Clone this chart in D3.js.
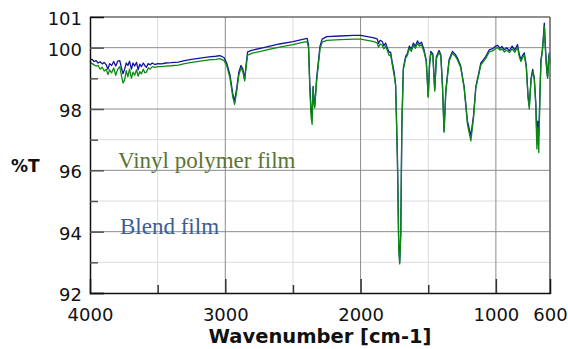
<!DOCTYPE html>
<html>
<head>
<meta charset="utf-8">
<script src="https://cdn.jsdelivr.net/npm/d3@7"></script>
<style>
  body { margin: 0; background: #fff; }
  svg { display: block; }
</style>
</head>
<body>
<svg id="chart" width="568" height="349"></svg>
<script>
// wavenumber (cm-1) sampling shared by both spectra
const wavenumbers = [
  4000, 3985, 3970, 3955, 3940, 3925, 3910, 3895, 3880, 3867, 3855, 3840, 3825, 3810, 3795, 3780,
  3768, 3756, 3744, 3732, 3720, 3708, 3694, 3682, 3670, 3656, 3644, 3632, 3620, 3606, 3595, 3583,
  3570, 3555, 3540, 3521, 3500, 3470, 3440, 3400, 3348, 3300, 3250, 3185, 3120, 3070, 3040, 3010,
  2990, 2965, 2945, 2931, 2915, 2900, 2884, 2870, 2857, 2845, 2835, 2800, 2700, 2600, 2500, 2420,
  2395, 2385, 2375, 2365, 2358, 2351, 2345, 2339, 2325, 2300, 2284, 2250, 2150, 2050, 2000, 1950,
  1900, 1876, 1868, 1855, 1840, 1828, 1815, 1803, 1790, 1778, 1766, 1752, 1741, 1728, 1718, 1711,
  1703, 1695, 1684, 1667, 1655, 1640, 1625, 1610, 1595, 1580, 1565, 1550, 1531, 1515, 1500, 1490,
  1481, 1466, 1452, 1440, 1420, 1407, 1395, 1383, 1370, 1346, 1321, 1300, 1284, 1260, 1235, 1210,
  1185, 1165, 1148, 1130, 1111, 1090, 1074, 1049, 1020, 1000, 988, 970, 955, 938, 920, 900,
  880, 860, 840, 828, 815, 802, 790, 775, 762, 753, 740, 728, 716, 705, 697, 690,
  683, 675, 667, 660, 654, 642, 636, 630, 622, 617, 611, 605, 600
];

// %T, blend film (blue)
const blendT = [
  99.60, 99.62, 99.55, 99.58, 99.50, 99.54, 99.47, 99.52, 99.44, 99.30, 99.48, 99.42, 99.55, 99.40, 99.56, 99.58,
  99.35, 99.15, 99.30, 99.50, 99.42, 99.56, 99.30, 99.50, 99.40, 99.52, 99.28, 99.46, 99.38, 99.50, 99.42, 99.36,
  99.48, 99.44, 99.50, 99.45, 99.48, 99.47, 99.50, 99.51, 99.53, 99.58, 99.62, 99.66, 99.70, 99.72, 99.74, 99.68,
  99.50, 99.10, 98.50, 98.26, 98.70, 99.20, 99.42, 99.30, 98.98, 99.50, 99.86, 99.92, 100.02, 100.12, 100.20, 100.28,
  100.30, 100.10, 98.80, 97.90, 97.72, 98.74, 98.30, 98.10, 99.00, 100.05, 100.28, 100.36, 100.38, 100.40, 100.40, 100.36,
  100.32, 100.28, 100.14, 100.24, 100.20, 100.06, 100.15, 100.00, 99.85, 99.85, 99.52, 99.20, 98.80, 96.50, 93.60, 93.00,
  94.00, 97.50, 99.33, 99.72, 99.80, 100.05, 99.95, 100.15, 100.05, 100.22, 100.12, 100.18, 99.93, 99.60, 98.42, 99.50,
  99.88, 99.80, 98.64, 99.70, 99.91, 99.77, 98.80, 97.28, 98.60, 99.61, 99.88, 99.78, 99.66, 99.40, 98.74, 97.60,
  97.12, 97.80, 98.74, 99.10, 99.50, 99.62, 99.72, 99.93, 99.98, 100.05, 100.08, 99.98, 100.04, 99.93, 100.00, 99.90,
  100.05, 99.92, 100.10, 99.80, 99.61, 99.75, 99.83, 99.40, 98.40, 98.10, 99.00, 99.29, 99.01, 98.20, 97.10, 97.60,
  97.15, 98.40, 99.61, 99.80, 100.04, 100.80, 100.20, 99.70, 99.20, 99.07, 99.60, 99.83, 99.50
];

// %T, vinyl polymer film (green)
const vinylT = [
  99.52, 99.48, 99.44, 99.40, 99.42, 99.30, 99.36, 99.24, 99.30, 99.12, 99.28, 99.18, 99.34, 99.10, 99.30, 99.38,
  99.10, 98.85, 98.95, 99.25, 99.05, 99.30, 99.01, 99.20, 99.10, 99.28, 99.07, 99.22, 99.15, 99.30, 99.18, 99.20,
  99.34, 99.30, 99.38, 99.36, 99.38, 99.38, 99.40, 99.41, 99.43, 99.48, 99.52, 99.56, 99.60, 99.62, 99.64, 99.58,
  99.42, 99.00, 98.40, 98.15, 98.60, 99.10, 99.34, 99.22, 98.92, 99.40, 99.76, 99.82, 99.92, 100.02, 100.10, 100.18,
  100.20, 100.00, 98.60, 97.70, 97.50, 98.70, 98.20, 98.04, 98.90, 99.95, 100.18, 100.24, 100.26, 100.28, 100.28, 100.24,
  100.20, 100.14, 100.02, 100.12, 100.08, 99.96, 100.04, 99.92, 99.75, 99.77, 99.45, 99.10, 98.75, 96.40, 93.40, 92.95,
  93.90, 97.40, 99.28, 99.66, 99.74, 99.98, 99.88, 100.08, 99.98, 100.14, 100.05, 100.10, 99.86, 99.55, 98.38, 99.45,
  99.82, 99.74, 98.58, 99.64, 99.85, 99.72, 98.75, 97.24, 98.55, 99.56, 99.82, 99.72, 99.60, 99.35, 98.70, 97.50,
  96.96, 97.72, 98.70, 99.05, 99.44, 99.56, 99.66, 99.86, 99.90, 99.98, 100.00, 99.92, 99.96, 99.86, 99.92, 99.84,
  99.96, 99.85, 100.02, 99.72, 99.55, 99.68, 99.76, 99.35, 98.35, 98.00, 98.95, 99.22, 98.95, 98.10, 96.70, 97.40,
  96.58, 98.30, 99.55, 99.75, 99.98, 100.70, 100.10, 99.60, 99.10, 99.00, 99.55, 99.78, 99.45
];

const xLabelTicks = [4000, 3000, 2000, 1000, 600];
const xMajorTicks = [3000, 2000, 1000];
const xMinorTicks = [3500, 2500, 1500];
const yMajorTicks = [92, 94, 96, 98, 100, 101];
const yMinorTicks = [93, 95, 97, 99];

const plotL = 90, plotR = 550, plotT = 17, plotB = 293;
const svg = d3.select('#chart');

const x = d3.scaleLinear().domain([4000, 600]).range([plotL, plotR]);
const y = d3.scaleLinear().domain([92, 101]).range([plotB, plotT]);

const tickFont = 'DejaVu Sans, Verdana, sans-serif';

// grid
const grid = svg.append('g');
grid.selectAll('.gy-minor').data(yMinorTicks).enter().append('line')
    .attr('x1', plotL).attr('x2', plotR)
    .attr('y1', d => y(d)).attr('y2', d => y(d))
    .attr('stroke', '#dcdcdc').attr('stroke-width', 1);
grid.selectAll('.gx-minor').data(xMinorTicks).enter().append('line')
    .attr('y1', plotT).attr('y2', plotB)
    .attr('x1', d => x(d)).attr('x2', d => x(d))
    .attr('stroke', '#dcdcdc').attr('stroke-width', 1);
grid.selectAll('.gy-major').data([94, 96, 98, 100]).enter().append('line')
    .attr('x1', plotL).attr('x2', plotR)
    .attr('y1', d => y(d)).attr('y2', d => y(d))
    .attr('stroke', '#8c8c8c').attr('stroke-width', 1);
grid.selectAll('.gx-major').data(xMajorTicks).enter().append('line')
    .attr('y1', plotT).attr('y2', plotB)
    .attr('x1', d => x(d)).attr('x2', d => x(d))
    .attr('stroke', '#8c8c8c').attr('stroke-width', 1);

// spectra
const line = (vals) => d3.line()
    .x((d, i) => x(wavenumbers[i]))
    .y((d) => y(d))(vals);

svg.append('path')
    .attr('d', line(blendT))
    .attr('fill', 'none')
    .attr('stroke', '#1414a0')
    .attr('stroke-width', 1.3)
    .attr('stroke-linejoin', 'round');
svg.append('path')
    .attr('d', line(vinylT))
    .attr('fill', 'none')
    .attr('stroke', '#0a8a14')
    .attr('stroke-width', 1.3)
    .attr('stroke-linejoin', 'round');

// frame
svg.append('line').attr('x1', plotL).attr('x2', plotR).attr('y1', plotT).attr('y2', plotT)
    .attr('stroke', '#222').attr('stroke-width', 1.2);
svg.append('line').attr('x1', plotR).attr('x2', plotR).attr('y1', plotT).attr('y2', plotB)
    .attr('stroke', '#666').attr('stroke-width', 1.6);

// y axis: inside ticks
const yAxis = svg.append('g').attr('transform', `translate(${plotL},0)`)
    .call(d3.axisLeft(y).tickValues(yMajorTicks).tickSize(-14).tickPadding(8).tickFormat(d3.format('d')));
yAxis.select('.domain').attr('stroke', '#111').attr('stroke-width', 1.5);
yAxis.selectAll('.tick line').attr('stroke', '#555').attr('stroke-width', 1.5);
yAxis.selectAll('.tick').filter(d => d === 101).select('line').remove();
yAxis.selectAll('.tick text')
    .attr('font-family', tickFont).attr('font-size', 18).attr('fill', '#111')
    .attr('dy', '0.42em');
const yMinor = svg.append('g').attr('transform', `translate(${plotL},0)`)
    .call(d3.axisLeft(y).tickValues(yMinorTicks).tickSize(-8).tickFormat(''));
yMinor.select('.domain').remove();
yMinor.selectAll('.tick line').attr('stroke', '#555').attr('stroke-width', 1.5);

// x axis: inside ticks
const xAxis = svg.append('g').attr('transform', `translate(0,${plotB})`)
    .call(d3.axisBottom(x).tickValues(xLabelTicks).tickSize(-14).tickPadding(15).tickFormat(d3.format('d')));
xAxis.select('.domain').attr('stroke', '#111').attr('stroke-width', 1.5);
xAxis.selectAll('.tick line').attr('stroke', '#333').attr('stroke-width', 1.5);
xAxis.selectAll('.tick').filter(d => d === 600 || d === 4000).select('line').remove();
xAxis.selectAll('.tick text')
    .attr('font-family', tickFont).attr('font-size', 18).attr('fill', '#111');
const xMinor = svg.append('g').attr('transform', `translate(0,${plotB})`)
    .call(d3.axisBottom(x).tickValues(xMinorTicks).tickSize(-8).tickFormat(''));
xMinor.select('.domain').remove();
xMinor.selectAll('.tick line').attr('stroke', '#333').attr('stroke-width', 1.5);

// axis titles
svg.append('text')
    .attr('x', 11).attr('y', 172)
    .attr('font-family', tickFont).attr('font-weight', 'bold').attr('font-size', 17)
    .attr('fill', '#111')
    .text('%T');
svg.append('text')
    .attr('x', 320).attr('y', 343).attr('text-anchor', 'middle')
    .attr('font-family', tickFont).attr('font-weight', 'bold').attr('font-size', 19.5)
    .attr('fill', '#111')
    .text('Wavenumber [cm-1]');

// series labels
svg.append('text')
    .attr('x', 118).attr('y', 168)
    .attr('font-family', 'Liberation Serif, Times New Roman, serif').attr('font-size', 23)
    .attr('fill', '#5a7434')
    .text('Vinyl polymer film');
svg.append('text')
    .attr('x', 120).attr('y', 234)
    .attr('font-family', 'Liberation Serif, Times New Roman, serif').attr('font-size', 23)
    .attr('fill', '#3b5d98')
    .text('Blend film');
</script>
</body>
</html>
